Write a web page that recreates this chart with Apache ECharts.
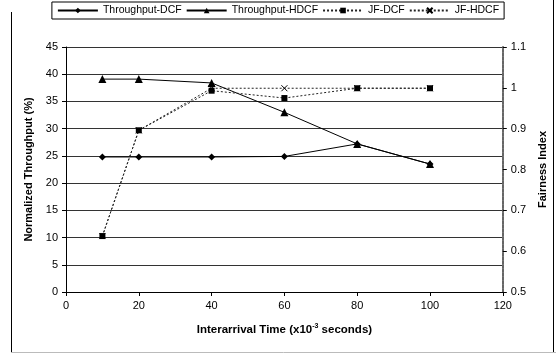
<!DOCTYPE html>
<html><head><meta charset="utf-8">
<script src="https://cdn.jsdelivr.net/npm/echarts@6/dist/echarts.min.js"></script>
<style>html,body{margin:0;padding:0;background:#fff}#c{width:556px;height:354px}</style>
</head><body><div id="c"></div>
<script>
const xValues = [10, 20, 40, 60, 80, 100];
const throughputDCF = [24.8, 24.8, 24.8, 24.9, 27.2, 23.5];
const throughputHDCF = [39.1, 39.1, 38.4, 33.0, 27.2, 23.5];
const jfDCF = [0.637, 0.896, 0.993, 0.975, 0.999, 0.999];
const jfHDCF = [0.637, 0.896, 0.999, 0.999, 0.999, 0.999];
const seriesNames = ['Throughput-DCF', 'Throughput-HDCF', 'JF-DCF', 'JF-HDCF'];

const pair = arr => xValues.map((x, i) => [x, arr[i]]);
const font = 'Liberation Sans, Arial, sans-serif';
const crossPath = 'path://M0,0L10,10M10,0L0,10';

const chart = echarts.init(document.getElementById('c'), null, {renderer: 'canvas'});
chart.setOption({
  backgroundColor: '#fff',
  animation: false,
  textStyle: {fontFamily: font, color: '#000'},
  graphic: [
    {type: 'line', shape: {x1: 11.5, y1: 12, x2: 11.5, y2: 352}, style: {stroke: '#000', lineWidth: 1}, silent: true},
    {type: 'line', shape: {x1: 553.5, y1: 0, x2: 553.5, y2: 352}, style: {stroke: '#000', lineWidth: 1}, silent: true},
    {type: 'line', shape: {x1: 11, y1: 352.5, x2: 556, y2: 352.5}, style: {stroke: '#bbb', lineWidth: 1}, silent: true}
  ],
  legend: {
    top: 2, left: 'center',
    itemWidth: 40, itemHeight: 7, itemGap: 4,
    borderColor: '#000', borderWidth: 1, padding: [3, 5, 3, 5],
    textStyle: {fontSize: 10.5, fontFamily: font, color: '#000'},
    data: seriesNames
  },
  grid: {left: 66, right: 46, top: 47, bottom: 62},
  xAxis: {
    type: 'value', min: 0, max: 120, interval: 20,
    name: 'Interarrival Time (x10{sup|-3} seconds)', nameLocation: 'middle', nameGap: 31,
    nameTextStyle: {fontSize: 11.5, fontWeight: 'bold', fontFamily: font, color: '#000',
      rich: {sup: {fontSize: 7, fontWeight: 'bold', verticalAlign: 'top', padding: [0, 0, 6, 0], fontFamily: font}}},
    axisLine: {lineStyle: {color: '#000', width: 1}},
    axisTick: {show: true, length: 4, lineStyle: {color: '#000'}},
    axisLabel: {fontSize: 11, color: '#000', margin: 8, fontFamily: font},
    splitLine: {show: false}
  },
  yAxis: [{
    type: 'value', min: 0, max: 45, interval: 5,
    name: 'Normalized Throughput (%)', nameLocation: 'middle', nameGap: 30,
    nameTextStyle: {fontSize: 11, fontWeight: 'bold', color: '#000', fontFamily: font},
    axisLine: {show: true, lineStyle: {color: '#000', width: 1}},
    axisTick: {show: true, length: 4, lineStyle: {color: '#000'}},
    axisLabel: {fontSize: 11, color: '#000', margin: 8, fontFamily: font},
    splitLine: {show: true, lineStyle: {color: '#333', width: 1}}
  }, {
    type: 'value', min: 0.5, max: 1.1, interval: 0.1, position: 'right',
    name: 'Fairness Index', nameLocation: 'middle', nameGap: 28, nameRotate: 90,
    nameTextStyle: {fontSize: 11, fontWeight: 'bold', color: '#000', fontFamily: font},
    axisLine: {show: true, lineStyle: {color: '#666', width: 2, type: [3, 1]}},
    axisTick: {show: true, length: 4, lineStyle: {color: '#000'}},
    axisLabel: {fontSize: 11, color: '#000', margin: 8, fontFamily: font,
      formatter: v => (Math.round(v * 10) / 10).toString()},
    splitLine: {show: false}
  }],
  series: [{
    name: seriesNames[0], type: 'line', yAxisIndex: 0, data: pair(throughputDCF),
    symbol: 'diamond', symbolSize: 7, showAllSymbol: true,
    lineStyle: {color: '#000', width: 1}, itemStyle: {color: '#000'}, z: 3
  }, {
    name: seriesNames[1], type: 'line', yAxisIndex: 0, data: pair(throughputHDCF),
    symbol: 'triangle', symbolSize: 8,
    lineStyle: {color: '#000', width: 1}, itemStyle: {color: '#000'}, z: 3
  }, {
    name: seriesNames[2], type: 'line', yAxisIndex: 1, data: pair(jfDCF),
    symbol: 'rect', symbolSize: 6,
    lineStyle: {color: '#222', width: 1, type: [2, 2]}, itemStyle: {color: '#000'}, z: 4
  }, {
    name: seriesNames[3], type: 'line', yAxisIndex: 1, data: pair(jfHDCF),
    symbol: crossPath, symbolSize: 6,
    lineStyle: {color: '#222', width: 1, type: [2, 2]},
    itemStyle: {color: 'none', borderColor: '#000', borderWidth: 1}, z: 2
  }]
});
</script></body></html>
